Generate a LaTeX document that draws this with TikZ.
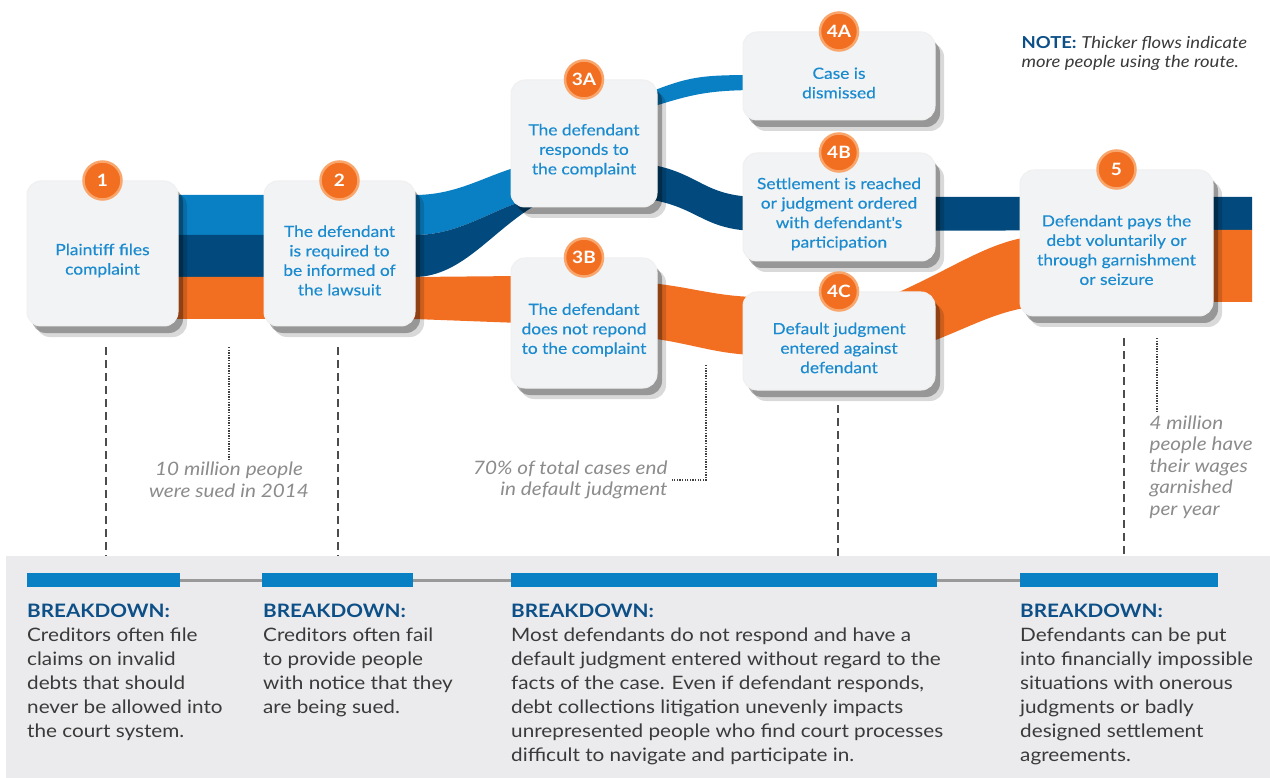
\documentclass[tikz,border=0pt]{standalone}
\usepackage{fontspec}
\setmainfont{Lato}[FakeStretch=1.12]
\newfontfamily\cardfont{Lato}[FakeBold=0.35, FakeStretch=1.12]
\usetikzlibrary{positioning,shadows}

\definecolor{flowlight}{HTML}{0A80C4}
\definecolor{flowdark}{HTML}{024A7D}
\definecolor{floworange}{HTML}{F26F22}
\definecolor{badgering}{HTML}{F8A66C}
\definecolor{cardfill}{HTML}{F2F3F5}
\definecolor{cardblue}{HTML}{1B8BD0}
\definecolor{headblue}{HTML}{0D4F87}
\definecolor{bodygray}{HTML}{3A3A3A}
\definecolor{remarkgray}{HTML}{8C8C8C}
\definecolor{panelgray}{HTML}{EBEBED}

\newcommand{\headfont}{\color{headblue}\bfseries\fontsize{18.5}{24}\selectfont}

\begin{document}
\begin{tikzpicture}[x=1pt, y=-1pt,
    card/.style={rectangle, rounded corners=14pt, fill=cardfill, draw=black!6, line width=1pt,
        drop shadow={shadow xshift=9pt, shadow yshift=-11pt, fill=black, opacity=.15},
        drop shadow={shadow xshift=5pt, shadow yshift=-7pt, fill=black, opacity=.3}},
    cardtext/.style={align=center, text=cardblue, font=\cardfont\fontsize{15.5}{19.5}\selectfont, yshift=-7pt},
    badge/.style={circle, fill=floworange, draw=badgering, line width=2.5pt, minimum size=38pt,
        inner sep=0pt, text=white, font=\fontsize{17}{17}\selectfont\bfseries},
    leader/.style={draw=black!70, line width=2pt, dash pattern=on 8pt off 5pt},
    pointer/.style={draw=black!75, line width=1.3pt, dash pattern=on 1.3pt off 1.3pt},
    remark/.style={text=remarkgray, font=\fontsize{18.5}{21.5}\selectfont\itshape},
    bar/.style={fill=flowlight, minimum height=14pt, inner sep=0pt, anchor=west},
    timeline/.style={draw=black!40, line width=3pt},
    breakdown/.style={anchor=north west, inner sep=0pt, align=left, text=bodygray,
        font=\fontsize{18.5}{24}\selectfont}]

    \useasboundingbox (0,0) rectangle (1270,778);
    \fill[white] (0,0) rectangle (1270,778);

    % flows
    \fill[flowlight] (150,195) -- (414,195) .. controls (465,195) and (490,170) .. (545,160)
        -- (645,94) .. controls (690,76) and (700,75) .. (760,75)
        -- (760,90) .. controls (705,90) and (690,95) .. (645,109)
        -- (545,195) .. controls (495,205) and (465,235) .. (414,235) -- (150,235) -- cycle;
    \fill[flowdark] (150,235) -- (414,235) .. controls (465,235) and (495,205) .. (545,195)
        -- (640,163) .. controls (700,170) and (700,197) .. (760,197) -- (1252,197)
        -- (1252,230) -- (760,231) .. controls (700,231) and (700,205) .. (640,198)
        -- (545,200) .. controls (495,225) and (465,277) .. (414,277) -- (150,277) -- cycle;
    \fill[floworange] (150,277) -- (414,277) -- (520,276) -- (640,282)
        .. controls (690,286) and (715,297) .. (760,297) -- (880,300)
        .. controls (950,272) and (990,238) .. (1040,236) -- (1120,230) -- (1252,230)
        -- (1252,302) -- (1120,302) -- (1040,306)
        .. controls (990,310) and (960,335) .. (900,352) -- (760,355)
        .. controls (715,355) and (690,342) .. (640,337) -- (520,323) -- (414,319)
        -- (150,319) -- cycle;

    % steps
    \node[card, minimum width=151pt, minimum height=145pt] (b1) at (102.5,253.5) {};
    \node[card, minimum width=151pt, minimum height=145pt, right=85pt of b1] (b2) {};
    \node[card, minimum width=146pt, minimum height=127pt] (b3a) at (584,143.5) {};
    \node[card, minimum width=146pt, minimum height=130pt, below=50pt of b3a] (b3b) {};
    \node[card, minimum width=192pt, minimum height=88pt] (b4a) at (839,76) {};
    \node[card, minimum width=192pt, minimum height=108pt, below=32pt of b4a] (b4b) {};
    \node[card, minimum width=192pt, minimum height=98pt, below=30pt of b4b] (b4c) {};
    \node[card, minimum width=193pt, minimum height=146pt] (b5) at (1116.5,243) {};

    \node[cardtext] (t1) at (b1) {Plaintiff files\\complaint};
    \node[cardtext] (t2) at (b2) {The defendant\\is required to\\be informed of\\the lawsuit};
    \node[cardtext] (t3a) at (b3a) {The defendant\\responds to\\the complaint};
    \node[cardtext] (t3b) at (b3b) {The defendant\\does not repond\\to the complaint};
    \node[cardtext] (t4a) at (b4a) {Case is\\dismissed};
    \node[cardtext] (t4b) at (b4b) {Settlement is reached\\or judgment ordered\\with defendant\textquotesingle s\\participation};
    \node[cardtext] (t4c) at (b4c) {Default judgment\\entered against\\defendant};
    \node[cardtext] (t5) at (b5) {Defendant pays the\\debt voluntarily or\\through garnishment\\or seizure};

    \node[badge] (n1) at (b1.north) {1};
    \node[badge] (n2) at (b2.north) {2};
    \node[badge] (n3a) at (b3a.north) {3A};
    \node[badge] (n3b) at (b3b.north) {3B};
    \node[badge] (n4a) at (b4a.north) {4A};
    \node[badge] (n4b) at (b4b.north) {4B};
    \node[badge] (n4c) at (b4c.north) {4C};
    \node[badge] (n5) at (b5.north) {5};

    \node[anchor=west, align=left, text=bodygray, font=\fontsize{16.5}{19}\selectfont] (note) at (1018,53)
        {{\color{headblue}\bfseries NOTE:} {\itshape Thicker flows indicate}\\{\itshape more people using the route.}};

    % remarks
    \node[remark, align=center] (a1) at (229,480) {10 million people\\were sued in 2014};
    \node[remark, align=right, anchor=east] (a2) at (671,480) {70\% of total cases end\\in default judgment};
    \node[remark, align=left, anchor=west] (a3) at (1146,467) {4 million\\people have\\their wages\\garnished\\per year};

    \coordinate (p1) at (229,347);
    \coordinate (p2) at (706,365);
    \coordinate (p3) at (1157,338);
    \draw[pointer] (p1) -- (p1 |- a1.north);
    \draw[pointer] (p2) |- (a2.east);
    \draw[pointer] (p3) -- (p3 |- a3.north);

    % breakdowns
    \fill[panelgray] (6,556) rectangle (1270,778);
    \coordinate (paneltop) at (0,556);
    \coordinate (d1) at (106,347);
    \coordinate (d2) at (338,347);
    \coordinate (d3) at (838,405);
    \coordinate (d4) at (1124,338);
    \foreach \d in {d1,d2,d3,d4}
        \draw[leader] (\d) -- (\d |- paneltop);

    \node[bar, minimum width=153pt] (bar1) at (27,580) {};
    \node[bar, minimum width=151pt] (bar2) at (262,580) {};
    \node[bar, minimum width=426pt] (bar3) at (511,580) {};
    \node[bar, minimum width=198pt] (bar4) at (1020,580) {};
    \draw[timeline] (bar1.east) -- (bar2.west) (bar2.east) -- (bar3.west) (bar3.east) -- (bar4.west);

    \node[breakdown] (k1) at (27,604) {{\headfont BREAKDOWN:}\\Creditors often file\\claims on invalid\\debts that should\\never be allowed into\\the court system.};
    \node[breakdown] (k2) at (263,604) {{\headfont BREAKDOWN:}\\Creditors often fail\\to provide people\\with notice that they\\are being sued.};
    \node[breakdown] (k3) at (511,604) {{\headfont BREAKDOWN:}\\Most defendants do not respond and have a\\default judgment entered without regard to the\\facts of the case. Even if defendant responds,\\debt collections litigation unevenly impacts\\unrepresented people who find court processes\\difficult to navigate and participate in.};
    \node[breakdown] (k4) at (1020,604) {{\headfont BREAKDOWN:}\\Defendants can be put\\into financially impossible\\situations with onerous\\judgments or badly\\designed settlement\\agreements.};

\end{tikzpicture}
\end{document}
